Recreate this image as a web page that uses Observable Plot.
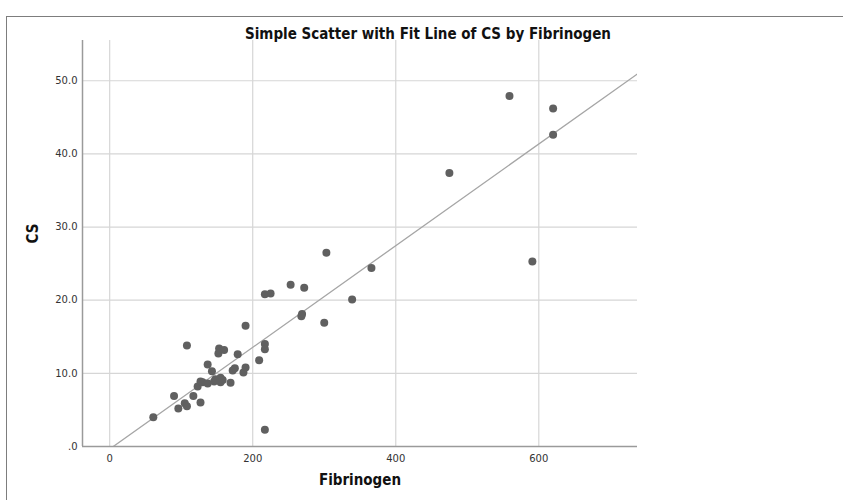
<!DOCTYPE html>
<html>
<head>
<meta charset="utf-8">
<script src="https://cdn.jsdelivr.net/npm/d3@7"></script>
<script src="https://cdn.jsdelivr.net/npm/@observablehq/plot@0.6"></script>
<style>
  body { margin: 0; background: #fff; }
  #wrap { position: relative; width: 843px; height: 500px; overflow: hidden; background: #fff; }
  #frame { position: absolute; left: 6px; top: 16px; width: 900px; height: 600px; border: 1.5px solid #7d7d7d; box-sizing: border-box; }
  #chart { position: absolute; left: 0; top: 0; }
  #chart svg { display: block; }
</style>
</head>
<body>
<div id="wrap"><div id="frame"></div><div id="chart"></div></div>
<script>
// Fibrinogen (x) and CS (y)
const fibrinogen = [61, 90, 96, 105, 108, 108, 117, 127, 123, 127, 130, 137, 137, 143, 146, 148, 153, 152, 160, 155, 155, 158, 169, 172, 175, 179, 187, 190, 190, 209, 217, 217, 217, 217, 225, 253, 272, 268, 269, 300, 303, 339, 366, 475, 559, 591, 620, 620];
const cs =         [4.0, 6.9, 5.2, 5.9, 5.5, 13.8, 6.9, 6.0, 8.2, 8.9, 8.8, 11.2, 8.6, 10.3, 8.9, 9.2, 13.4, 12.7, 13.2, 9.4, 8.8, 9.1, 8.7, 10.4, 10.7, 12.6, 10.1, 10.8, 16.5, 11.8, 14.0, 13.3, 2.3, 20.8, 20.9, 22.1, 21.7, 17.8, 18.1, 16.9, 26.5, 20.1, 24.4, 37.4, 47.9, 25.3, 46.2, 42.6];

// Fit line: CS = intercept + slope * Fibrinogen
const fitIntercept = -0.35;
const fitSlope = 0.0695;

// Axes
const xTicks = [0, 200, 400, 600];
const yTicks = [0, 10, 20, 30, 40, 50];
const yTickLabels = [".0", "10.0", "20.0", "30.0", "40.0", "50.0"];
const xDomain = [-38, 738];
const yDomain = [0, 55.5];

const titleText = "Simple Scatter with Fit Line of CS by Fibrinogen";
const xLabel = "Fibrinogen";
const yLabel = "CS";

const points = fibrinogen.map((x, i) => ({x, y: cs[i]}));
const fitLine = xDomain.map(x => ({x, y: fitIntercept + fitSlope * x}));

const tickFont = "DejaVu Sans, Verdana, sans-serif";
const boldFont = "DejaVu Sans Condensed, DejaVu Sans, sans-serif";

const chart = Plot.plot({
  width: 843,
  height: 500,
  marginLeft: 82,
  marginRight: 206,
  marginTop: 40,
  marginBottom: 54,
  style: {background: "transparent", fontFamily: tickFont, overflow: "visible"},
  x: {domain: xDomain},
  y: {domain: yDomain},
  marks: [
    Plot.gridX(xTicks, {stroke: "#d6d6d6", strokeOpacity: 1, strokeWidth: 1.2}),
    Plot.gridY(yTicks.filter(d => d > 0), {stroke: "#d6d6d6", strokeOpacity: 1, strokeWidth: 1.2}),
    Plot.axisX({ticks: xTicks, tickSize: 0, tickPadding: 8, fontSize: 10, color: "#333", label: null}),
    Plot.axisY({ticks: yTicks, tickSize: 0, tickPadding: 5, fontSize: 10, color: "#333", label: null,
      tickFormat: d => yTickLabels[yTicks.indexOf(d)]}),
    Plot.ruleY([yDomain[0]], {stroke: "#9a9a9a", strokeWidth: 1.5}),
    Plot.ruleX([xDomain[0]], {stroke: "#9a9a9a", strokeWidth: 1.5}),
    Plot.line(fitLine, {x: "x", y: "y", stroke: "#a6a6a6", strokeWidth: 1.3, clip: true}),
    Plot.dot(points, {x: "x", y: "y", r: 4, fill: "#606060", stroke: "none"}),
    Plot.text([titleText], {frameAnchor: "top", dx: 68, dy: -12, fontSize: 15, fontWeight: "bold", fill: "#111", fontFamily: boldFont}),
    Plot.text([xLabel], {frameAnchor: "bottom", dy: 38, fontSize: 15, fontWeight: "bold", fill: "#111", fontFamily: boldFont}),
    Plot.text([yLabel], {frameAnchor: "left", dx: -49, rotate: -90, fontSize: 15, fontWeight: "bold", fill: "#111", fontFamily: boldFont})
  ]
});
document.getElementById("chart").appendChild(chart);
</script>
</body>
</html>
